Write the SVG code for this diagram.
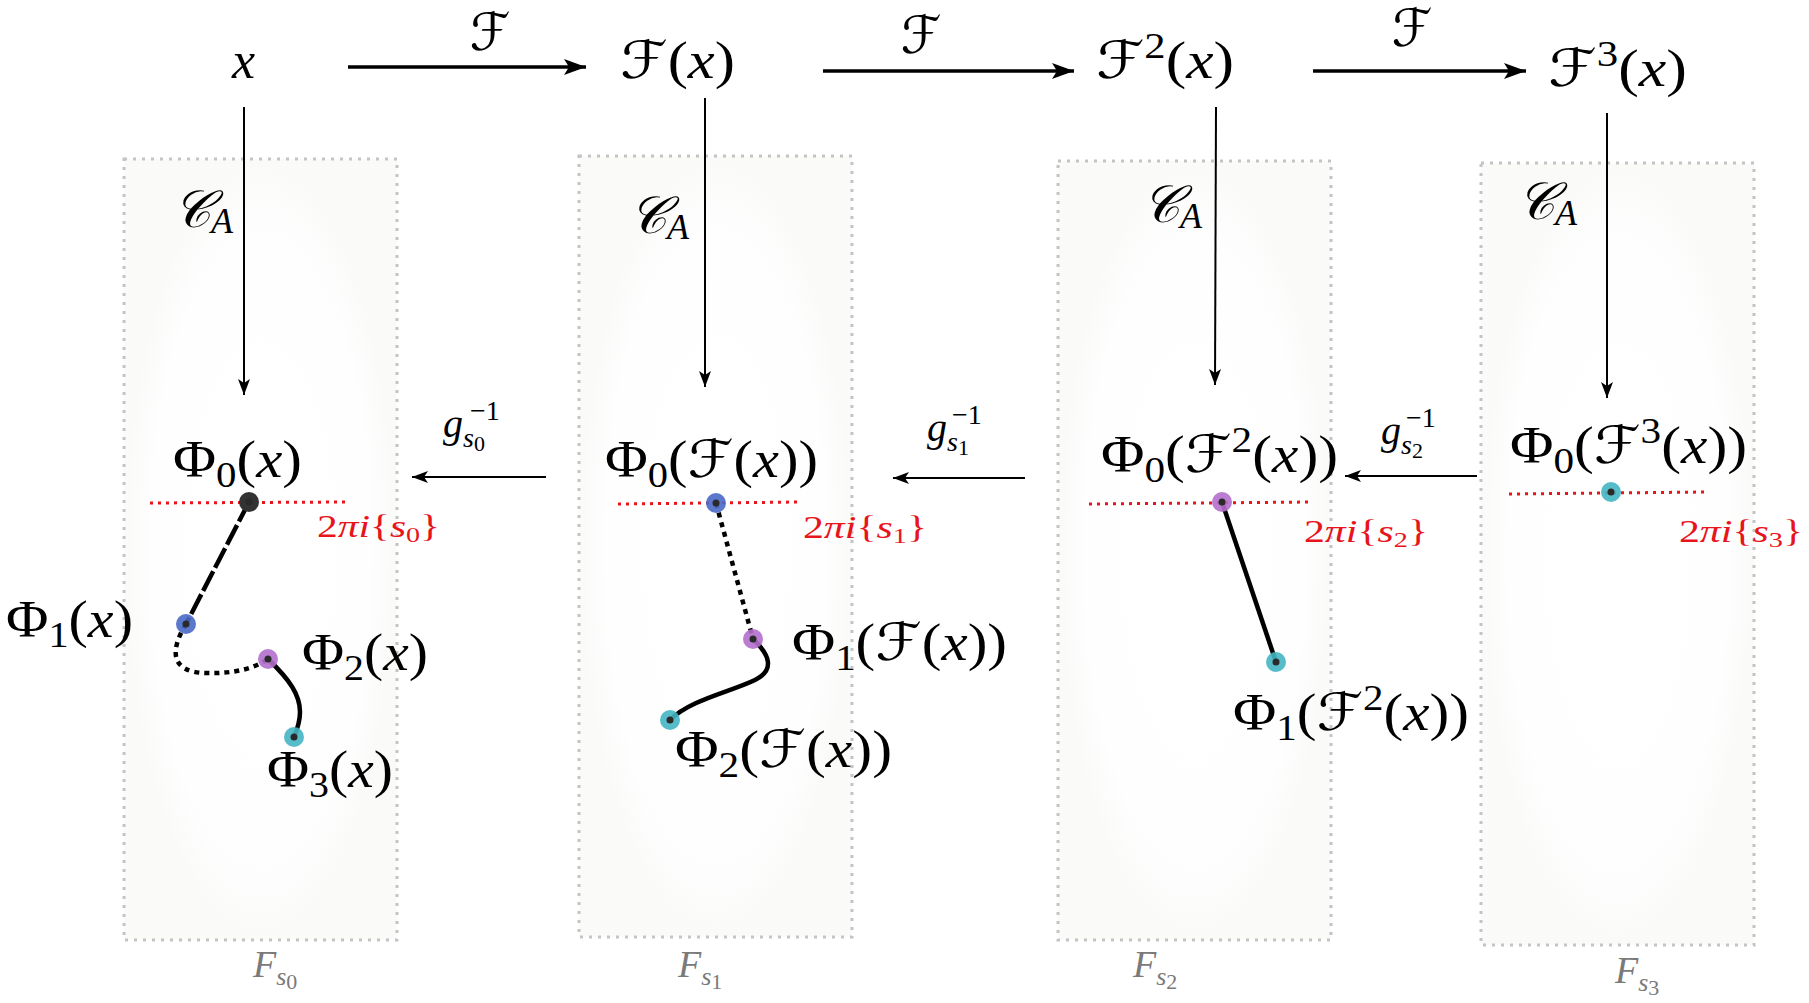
<svg xmlns="http://www.w3.org/2000/svg" width="1809" height="1003" viewBox="0 0 1809 1003">
<defs>
<style>
.m{font-family:"Liberation Serif","Times New Roman","DejaVu Serif",serif;font-size:52px;fill:#000}
.i{font-style:italic}
.sub{font-size:36px}
.scr{font-family:"DejaVu Serif","DejaVu Sans",serif;font-style:italic}
.cal{font-family:"DejaVu Serif","DejaVu Sans","Noto Sans",serif;font-style:italic}
.red{font-family:"Liberation Serif","Times New Roman","DejaVu Serif",serif;font-size:31px;fill:#e8141c}
.gl{font-family:"Liberation Serif","Times New Roman","DejaVu Serif",serif;font-size:40px;fill:#000}
.fs{font-family:"Liberation Serif","Times New Roman","DejaVu Serif",serif;font-size:38px;fill:#7a7a7a;font-style:italic}
.box{fill:url(#bg);stroke:#c4c4c4;stroke-width:3;stroke-dasharray:3 6}
.rl{stroke:#e8141c;stroke-width:3;stroke-dasharray:3 5;fill:none}
.thick{stroke:#000;stroke-width:3.5;fill:none}
.thin{stroke:#000;stroke-width:2;fill:none}
.path{stroke:#000;fill:none;stroke-width:4.5}
.ctr{fill:#2a2a2a}
.dot{fill-opacity:0.9}
</style>
<radialGradient id="bg" cx="0.5" cy="0.5" r="0.5">
<stop offset="0" stop-color="#ffffff"/>
<stop offset="0.8" stop-color="#fefefe"/>
<stop offset="1" stop-color="#fafaf9"/>
</radialGradient>
<marker id="ah" markerUnits="userSpaceOnUse" markerWidth="26" markerHeight="20" refX="22" refY="10" orient="auto">
<path d="M0,2 L22,10 L0,18 L5,10 z" fill="#000"/>
</marker>
<marker id="av" markerUnits="userSpaceOnUse" markerWidth="20" markerHeight="16" refX="16" refY="8" orient="auto">
<path d="M0,2 L16,8 L0,14 L4,8 z" fill="#000"/>
</marker>
</defs>
<rect width="1809" height="1003" fill="#fff"/>

<g id="fibers">
<g id="box0"><rect class="box" x="124" y="159" width="273" height="781"/><text class="fs" x="253" y="977">F<tspan font-size="26" dy="8">s</tspan><tspan font-size="22" font-style="normal" dy="4">0</tspan></text></g>
<g id="box1"><rect class="box" x="579" y="156" width="273" height="781"/><text class="fs" x="678" y="977">F<tspan font-size="26" dy="8">s</tspan><tspan font-size="22" font-style="normal" dy="4">1</tspan></text></g>
<g id="box2"><rect class="box" x="1058" y="161" width="273" height="779"/><text class="fs" x="1133" y="977">F<tspan font-size="26" dy="8">s</tspan><tspan font-size="22" font-style="normal" dy="4">2</tspan></text></g>
<g id="box3"><rect class="box" x="1481" y="163" width="273" height="782"/><text class="fs" x="1615" y="983">F<tspan font-size="26" dy="8">s</tspan><tspan font-size="22" font-style="normal" dy="4">3</tspan></text></g>
</g>

<g id="branch-lines">
<line class="rl" x1="150" y1="503" x2="348" y2="502"/>
<line class="rl" x1="618" y1="504" x2="800" y2="502"/>
<line class="rl" x1="1089" y1="504" x2="1311" y2="502"/>
<line class="rl" x1="1509" y1="494" x2="1708" y2="492"/>
<text class="red" x="317" y="537" textLength="123" lengthAdjust="spacingAndGlyphs">2<tspan class="i">πi</tspan>{<tspan class="i">s</tspan><tspan font-size="21" dy="5">0</tspan><tspan dy="-5">}</tspan></text>
<text class="red" x="803" y="538" textLength="124" lengthAdjust="spacingAndGlyphs">2<tspan class="i">πi</tspan>{<tspan class="i">s</tspan><tspan font-size="21" dy="5">1</tspan><tspan dy="-5">}</tspan></text>
<text class="red" x="1304" y="542" textLength="124" lengthAdjust="spacingAndGlyphs">2<tspan class="i">πi</tspan>{<tspan class="i">s</tspan><tspan font-size="21" dy="5">2</tspan><tspan dy="-5">}</tspan></text>
<text class="red" x="1679" y="542" textLength="124" lengthAdjust="spacingAndGlyphs">2<tspan class="i">πi</tspan>{<tspan class="i">s</tspan><tspan font-size="21" dy="5">3</tspan><tspan dy="-5">}</tspan></text>
</g>

<g id="connectors">
<line class="thick" x1="348" y1="67" x2="586" y2="67" marker-end="url(#ah)"/>
<line class="thick" x1="823" y1="71" x2="1074" y2="71" marker-end="url(#ah)"/>
<line class="thick" x1="1313" y1="71" x2="1526" y2="71" marker-end="url(#ah)"/>
<line class="thin" x1="244" y1="107" x2="244" y2="395" marker-end="url(#av)"/>
<line class="thin" x1="705" y1="98" x2="705" y2="387" marker-end="url(#av)"/>
<line class="thin" x1="1216" y1="107" x2="1215" y2="385" marker-end="url(#av)"/>
<line class="thin" x1="1607" y1="113" x2="1607" y2="398" marker-end="url(#av)"/>
<line class="thin" x1="546" y1="477" x2="412" y2="477" marker-end="url(#av)"/>
<line class="thin" x1="1025" y1="478" x2="893" y2="478" marker-end="url(#av)"/>
<line class="thin" x1="1477" y1="476" x2="1345" y2="476" stroke-width="3" marker-end="url(#av)"/>
<path class="path" d="M249,502 L186,624" stroke-dasharray="22 4"/>
<path class="path" d="M186,624 C170,650 170,672 205,673 C235,674 255,668 268,659" stroke-dasharray="5 5"/>
<path class="path" d="M268,659 C290,680 300,695 300,712 C300,722 297,730 294,737"/>
<path class="path" d="M716,503 L753,639" stroke-dasharray="5 5"/>
<path class="path" d="M753,639 C770,655 775,670 755,680 C730,692 690,700 670,720"/>
<path class="path" d="M1222,502 L1276,662"/>
</g>

<g id="labels-F">
<text class="m scr" x="490" y="50" text-anchor="middle" font-size="44">ℱ</text>
<text class="m scr" x="921" y="53" text-anchor="middle" font-size="44">ℱ</text>
<text class="m scr" x="1412" y="46" text-anchor="middle" font-size="44">ℱ</text>
<text class="gl" x="443" y="437"><tspan class="i">g</tspan><tspan class="i" font-size="28" dy="10">s</tspan><tspan font-size="22" dy="4">0</tspan><tspan font-size="28" x="470" y="420">−1</tspan></text>
<text class="gl" x="927" y="441"><tspan class="i">g</tspan><tspan class="i" font-size="28" dy="10">s</tspan><tspan font-size="22" dy="4">1</tspan><tspan font-size="28" x="952" y="424">−1</tspan></text>
<text class="gl" x="1381" y="444"><tspan class="i">g</tspan><tspan class="i" font-size="28" dy="10">s</tspan><tspan font-size="22" dy="4">2</tspan><tspan font-size="28" x="1406" y="427">−1</tspan></text>
<text class="m cal" x="173" y="227" font-size="58">𝒞<tspan class="i" font-size="36" dy="6" font-family="Liberation Serif">A</tspan></text>
<text class="m cal" x="629" y="233" font-size="58">𝒞<tspan class="i" font-size="36" dy="6" font-family="Liberation Serif">A</tspan></text>
<text class="m cal" x="1142" y="222" font-size="58">𝒞<tspan class="i" font-size="36" dy="6" font-family="Liberation Serif">A</tspan></text>
<text class="m cal" x="1517" y="219" font-size="58">𝒞<tspan class="i" font-size="36" dy="6" font-family="Liberation Serif">A</tspan></text>
</g>

<g id="n-x"><text class="m i" x="232" y="78">x</text></g>
<g id="n-Fx"><text class="m" x="620" y="78" textLength="115" lengthAdjust="spacingAndGlyphs"><tspan class="scr">ℱ</tspan>(<tspan class="i">x</tspan>)</text></g>
<g id="n-F2x"><text class="m" x="1096" y="78" textLength="138" lengthAdjust="spacingAndGlyphs"><tspan class="scr">ℱ</tspan><tspan font-size="36" dy="-20">2</tspan><tspan dy="20">(</tspan><tspan class="i">x</tspan>)</text></g>
<g id="n-F3x"><text class="m" x="1548" y="86" textLength="139" lengthAdjust="spacingAndGlyphs"><tspan class="scr">ℱ</tspan><tspan font-size="36" dy="-20">3</tspan><tspan dy="20">(</tspan><tspan class="i">x</tspan>)</text></g>

<g id="n-phi0-x"><text class="m" x="173" y="477" textLength="129" lengthAdjust="spacingAndGlyphs">Φ<tspan class="sub" dy="10">0</tspan><tspan dy="-10">(</tspan><tspan class="i">x</tspan>)</text>
<circle cx="249" cy="502" r="10" fill="#333"/><circle class="ctr" cx="249" cy="502" r="3.5"/></g>
<g id="n-phi1-x"><text class="m" x="6" y="637" textLength="127" lengthAdjust="spacingAndGlyphs">Φ<tspan class="sub" dy="10">1</tspan><tspan dy="-10">(</tspan><tspan class="i">x</tspan>)</text>
<circle class="dot" cx="186" cy="624" r="10" fill="#4a69c8"/><circle class="ctr" cx="186" cy="624" r="3.5"/></g>
<g id="n-phi2-x"><text class="m" x="302" y="670" textLength="126" lengthAdjust="spacingAndGlyphs">Φ<tspan class="sub" dy="10">2</tspan><tspan dy="-10">(</tspan><tspan class="i">x</tspan>)</text>
<circle class="dot" cx="268" cy="659" r="10" fill="#b46fcc"/><circle class="ctr" cx="268" cy="659" r="3.5"/></g>
<g id="n-phi3-x"><text class="m" x="267" y="787" textLength="126" lengthAdjust="spacingAndGlyphs">Φ<tspan class="sub" dy="10">3</tspan><tspan dy="-10">(</tspan><tspan class="i">x</tspan>)</text>
<circle class="dot" cx="294" cy="737" r="10" fill="#45b5c4"/><circle class="ctr" cx="294" cy="737" r="3.5"/></g>

<g id="n-phi0-Fx"><text class="m" x="605" y="477" textLength="213" lengthAdjust="spacingAndGlyphs">Φ<tspan class="sub" dy="10">0</tspan><tspan dy="-10">(</tspan><tspan class="scr">ℱ</tspan>(<tspan class="i">x</tspan>))</text>
<circle class="dot" cx="716" cy="503" r="10" fill="#4a69c8"/><circle class="ctr" cx="716" cy="503" r="3.5"/></g>
<g id="n-phi1-Fx"><text class="m" x="792" y="660" textLength="215" lengthAdjust="spacingAndGlyphs">Φ<tspan class="sub" dy="10">1</tspan><tspan dy="-10">(</tspan><tspan class="scr">ℱ</tspan>(<tspan class="i">x</tspan>))</text>
<circle class="dot" cx="753" cy="639" r="10" fill="#b46fcc"/><circle class="ctr" cx="753" cy="639" r="3.5"/></g>
<g id="n-phi2-Fx"><text class="m" x="675" y="767" textLength="217" lengthAdjust="spacingAndGlyphs">Φ<tspan class="sub" dy="10">2</tspan><tspan dy="-10">(</tspan><tspan class="scr">ℱ</tspan>(<tspan class="i">x</tspan>))</text>
<circle class="dot" cx="670" cy="720" r="10" fill="#45b5c4"/><circle class="ctr" cx="670" cy="720" r="3.5"/></g>

<g id="n-phi0-F2x"><text class="m" x="1101" y="472" textLength="237" lengthAdjust="spacingAndGlyphs">Φ<tspan class="sub" dy="10">0</tspan><tspan dy="-10">(</tspan><tspan class="scr">ℱ</tspan><tspan font-size="36" dy="-20">2</tspan><tspan dy="20">(</tspan><tspan class="i">x</tspan>))</text>
<circle class="dot" cx="1222" cy="502" r="10" fill="#b46fcc"/><circle class="ctr" cx="1222" cy="502" r="3.5"/></g>
<g id="n-phi1-F2x"><text class="m" x="1233" y="730" textLength="236" lengthAdjust="spacingAndGlyphs">Φ<tspan class="sub" dy="10">1</tspan><tspan dy="-10">(</tspan><tspan class="scr">ℱ</tspan><tspan font-size="36" dy="-20">2</tspan><tspan dy="20">(</tspan><tspan class="i">x</tspan>))</text>
<circle class="dot" cx="1276" cy="662" r="10" fill="#45b5c4"/><circle class="ctr" cx="1276" cy="662" r="3.5"/></g>

<g id="n-phi0-F3x"><text class="m" x="1510" y="463" textLength="237" lengthAdjust="spacingAndGlyphs">Φ<tspan class="sub" dy="10">0</tspan><tspan dy="-10">(</tspan><tspan class="scr">ℱ</tspan><tspan font-size="36" dy="-20">3</tspan><tspan dy="20">(</tspan><tspan class="i">x</tspan>))</text>
<circle class="dot" cx="1611" cy="492" r="10" fill="#45b5c4"/><circle class="ctr" cx="1611" cy="492" r="3.5"/></g>
</svg>
